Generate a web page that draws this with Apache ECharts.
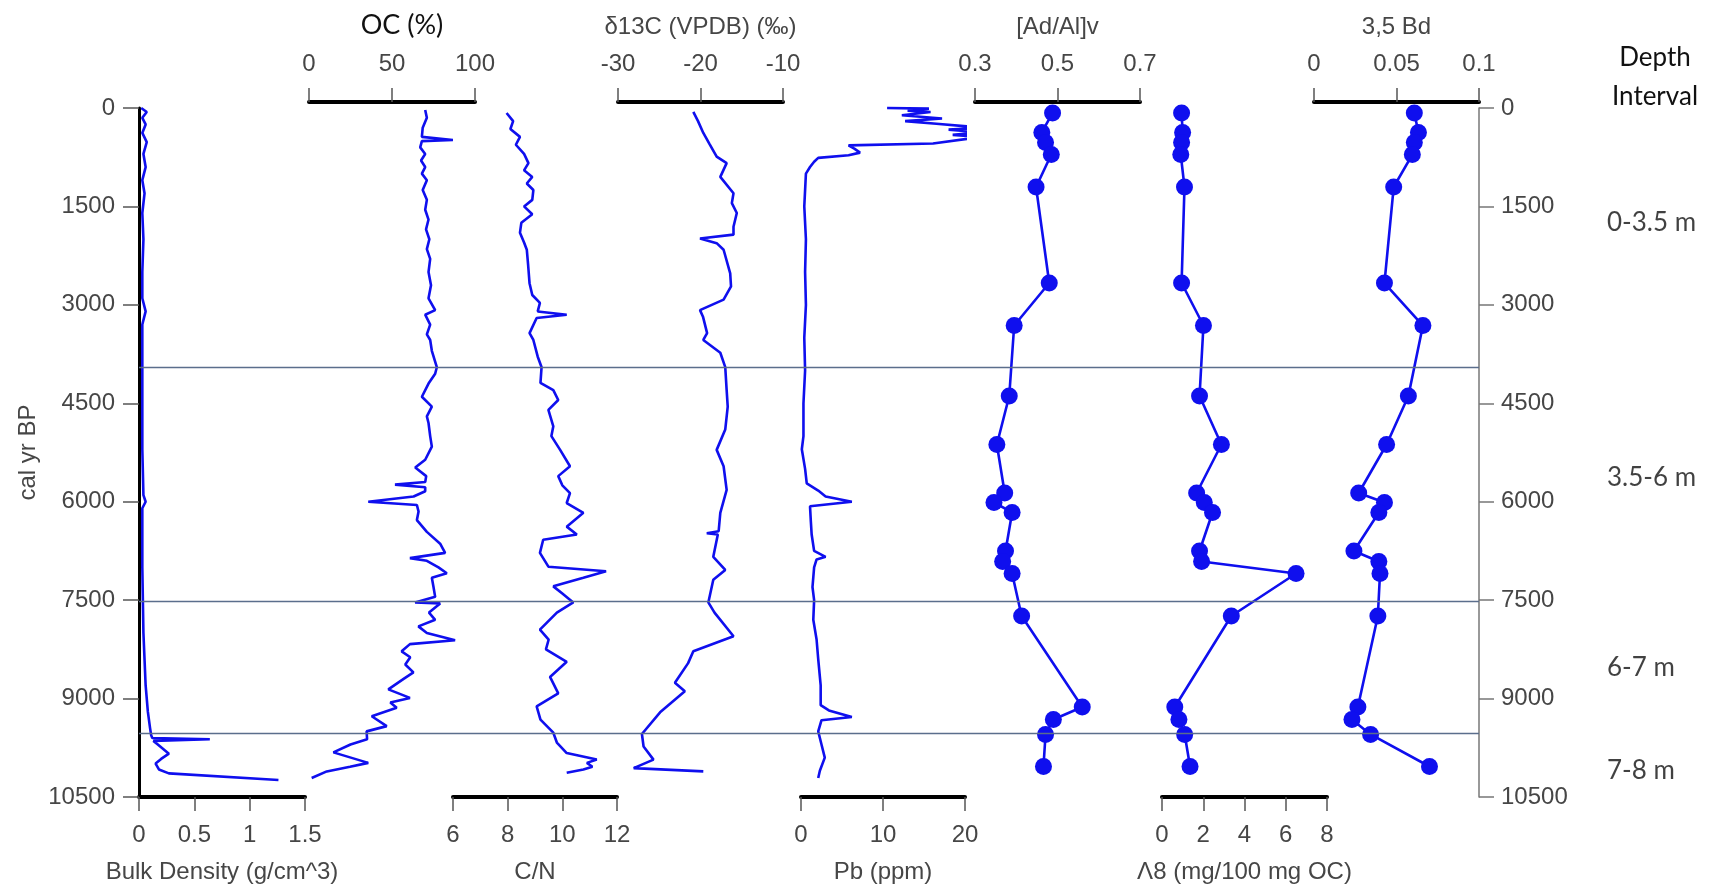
<!DOCTYPE html>
<html>
<head>
<meta charset="utf-8">
<title>Core profiles</title>
<script src="https://cdn.jsdelivr.net/npm/echarts@6/dist/echarts.min.js"></script>
<style>
  html, body { margin: 0; padding: 0; background: #fff; }
  #main { width: 1724px; height: 892px; }
</style>
</head>
<body>
<div id="main"></div>
<script>
// ---- data: age (cal yr BP) and value for every profile ----
var bdAge = [0, 60, 150, 250, 380, 520, 700, 900, 1100, 1300, 1600, 2000, 2500, 2900, 3100, 3300, 3800, 4500, 5200, 5900,
  6000, 6100, 7000, 8000, 8800, 9200, 9450, 9560, 9600, 9620, 9645, 9700, 9840, 9920, 9990, 10080, 10140, 10240];
var bdVal = [0.02, 0.07, 0.03, 0.06, 0.03, 0.07, 0.04, 0.06, 0.03, 0.05, 0.03, 0.04, 0.03, 0.03, 0.06, 0.03, 0.03, 0.03, 0.03, 0.04,
  0.06, 0.03, 0.03, 0.04, 0.06, 0.08, 0.1, 0.11, 0.12, 0.64, 0.13, 0.17, 0.27, 0.2, 0.15, 0.18, 0.27, 1.26];

var ocAge = [30, 150, 300, 440, 487, 505, 600, 700, 800, 900, 1000, 1100, 1250, 1400, 1550, 1700, 1850, 2000, 2150, 2300,
  2500, 2700, 2900, 3080, 3150, 3300, 3450, 3535, 3700, 3950, 4050, 4200, 4400, 4550, 4700, 4800, 5000, 5160, 5360, 5480,
  5610, 5700, 5740, 5780, 5840, 5920, 6000, 6050, 6150, 6280, 6460, 6640, 6780, 6860, 6900, 7000, 7090, 7160, 7300, 7450,
  7535, 7550, 7690, 7800, 7900, 8000, 8110, 8170, 8280, 8370, 8480, 8600, 8700, 8860, 8990, 9060, 9140, 9270, 9420, 9500,
  9620, 9700, 9820, 9980, 10040, 10110, 10210];
var ocVal = [70, 71, 68.5, 68, 86.7, 68, 67, 70, 67.5, 70, 68, 71, 68.5, 71, 70, 72, 70.5, 72.5, 71, 73,
  72, 73.5, 72, 76, 70, 73, 71, 73, 74, 77, 76, 72, 68, 74, 71, 72, 73, 74, 70, 64,
  70.6, 70, 51.8, 70, 70, 63, 35.7, 65, 66, 65, 71, 79, 82, 60.8, 71, 78, 83, 74, 75, 76,
  63.9, 79, 72.3, 76, 65.9, 71, 88, 60.8, 55.8, 61, 58, 62.9, 57, 47.8, 60.8, 49, 52.8, 37.8, 46.8, 34.7,
  35, 25, 14.7, 35.7, 24.7, 10.7, 1.6];

var cnAge = [76, 200, 320, 440, 560, 700, 840, 950, 1050, 1150, 1250, 1400, 1500, 1620, 1750, 1900, 2050, 2160, 2400, 2670,
  2850, 2970, 3100, 3150, 3200, 3430, 3535, 3790, 3950, 4190, 4300, 4450, 4600, 4850, 5000, 5210, 5460, 5610, 5750, 5870,
  6020, 6170, 6380, 6500, 6580, 6780, 6990, 7060, 7160, 7290, 7400, 7535, 7690, 7950, 8100, 8250, 8440, 8670, 8920, 9120,
  9320, 9520, 9670, 9830, 9930, 9980, 10040, 10080, 10130];
var cnVal = [7.96, 8.2, 8.1, 8.45, 8.3, 8.6, 8.76, 8.6, 8.9, 8.7, 8.94, 8.9, 8.6, 8.9, 8.5, 8.45, 8.6, 8.7, 8.75, 8.8,
  8.9, 9.18, 9.1, 10.16, 9.06, 8.8, 8.94, 9.1, 9.24, 9.2, 9.67, 9.85, 9.49, 9.67, 9.6, 9.92, 10.28, 9.85, 10.0, 10.28,
  10.16, 10.77, 10.16, 10.53, 9.3, 9.18, 9.49, 11.6, 10.77, 9.67, 10.0, 10.4, 9.8, 9.18, 9.5, 9.4, 10.16, 9.55, 9.85, 9.06,
  9.2, 9.67, 9.8, 10.16, 11.26, 10.9, 11.1, 10.77, 10.16];

var d13Age = [60, 200, 380, 550, 740, 840, 1050, 1300, 1450, 1600, 1810, 1930, 1990, 2060, 2160, 2520, 2720, 2920, 3080, 3180,
  3430, 3535, 3730, 3950, 4300, 4550, 4900, 5210, 5460, 5820, 6170, 6450, 6480, 6500, 6840, 7040, 7190, 7535, 7690, 8050,
  8280, 8460, 8760, 8890, 9210, 9540, 9730, 9930, 10060, 10110];
var d13Val = [-20.87, -20.3, -19.66, -18.9, -18.04, -16.83, -17.6, -16.0, -16.2, -15.6, -16.0, -16.0, -20.06, -18.04, -17.2, -16.4, -16.3, -17.2, -20.06, -19.7,
  -19.2, -19.66, -17.6, -17.0, -16.83, -16.7, -17.0, -18.04, -17.2, -16.83, -17.6, -17.8, -19.24, -17.9, -18.45, -17.0, -18.45, -19.05, -18.3, -16.0,
  -20.87, -21.5, -23.1, -21.9, -24.9, -27.1, -26.9, -25.7, -28.1, -19.66];

var pbAge = [0, 10, 40, 60, 110, 160, 200, 240, 300, 330, 370, 410, 440, 540, 570, 620, 680, 720, 760, 820,
  900, 1000, 1500, 2000, 2500, 3000, 3500, 4000, 4500, 5000, 5200, 5500, 5720, 5830, 5920, 6000, 6070, 6300, 6500, 6750,
  6840, 6880, 7000, 7300, 7500, 7800, 8100, 8400, 8800, 9100, 9180, 9280, 9330, 9500, 9700, 9900, 10100, 10210];
var pbVal = [10.5, 15.6, 13.0, 15.8, 12.3, 17.2, 12.7, 16.5, 22.1, 18.0, 22.1, 18.5, 22.1, 16.1, 5.8, 6.5, 7.2, 5.8, 2.1, 1.6,
  1.1, 0.6, 0.4, 0.6, 0.5, 0.6, 0.4, 0.5, 0.3, 0.3, 0.1, 0.5, 0.7, 2.1, 3.0, 6.2, 1.1, 1.2, 1.3, 1.6,
  3.0, 1.9, 1.6, 1.4, 1.6, 1.5, 1.9, 2.1, 2.4, 2.4, 3.4, 6.2, 2.5, 2.1, 2.5, 2.9, 2.3, 2.1];

// discrete samples (shared ages)
var sampleAge = [76, 373, 526, 709, 1204, 2667, 3315, 4389, 5128, 5867, 6012, 6164, 6751, 6911, 7094, 7742, 9128, 9319, 9547, 10035];
var adAlVal = [0.488, 0.462, 0.471, 0.485, 0.448, 0.480, 0.395, 0.383, 0.353, 0.372, 0.346, 0.39, 0.374, 0.367, 0.39, 0.413, 0.560, 0.49, 0.471, 0.466];
var lambda8Val = [0.95, 1.0, 0.95, 0.91, 1.09, 0.95, 2.01, 1.82, 2.88, 1.68, 2.05, 2.45, 1.82, 1.92, 6.5, 3.36, 0.62, 0.82, 1.1, 1.36];
var bd35Val = [0.0608, 0.0633, 0.0608, 0.0596, 0.0483, 0.0427, 0.066, 0.0572, 0.044, 0.0271, 0.0427, 0.0393, 0.0242, 0.0393, 0.04, 0.0387, 0.0266, 0.023, 0.0343, 0.07];

// depth intervals
var zoneBreaks = [3950, 7520, 9530];
var zoneNames = ['0-3.5 m', '3.5-6 m', '6-7 m', '7-8 m'];
var zoneLabelAge = [1740, 5640, 8530, 10100];

function pairs(vals, ages) {
  return vals.map(function (v, i) { return [v, ages[i]]; });
}
function plain(v) { return String(v); }   // no thousands separator

var TOP = 108, H = 689;
var BLUE = '#0f0fee';
var ARIAL = "'Liberation Sans', Arial, sans-serif";
var LABEL = { color: '#464646', fontFamily: ARIAL, fontSize: 24 };
var CALIBRI = { color: '#111', fontFamily: 'Lato', fontSize: 27 };

// one panel per profile
var panels = [
  { name: 'Bulk Density (g/cm^3)', left: 139, width: 166, pos: 'bottom', min: 0, max: 1.5, ticks: [0, 0.5, 1, 1.5], data: pairs(bdVal, bdAge) },
  { name: 'OC (%)', left: 309, width: 166, pos: 'top', min: 0, max: 100, ticks: [0, 50, 100], data: pairs(ocVal, ocAge),
    nameStyle: Object.assign({}, CALIBRI, { padding: [0, 0, 0, 20] }) },
  { name: 'C/N', left: 453, width: 164, pos: 'bottom', min: 6, max: 12, ticks: [6, 8, 10, 12], data: pairs(cnVal, cnAge) },
  { name: 'δ13C (VPDB) (‰)', left: 618, width: 165, pos: 'top', min: -30, max: -10, ticks: [-30, -20, -10], data: pairs(d13Val, d13Age) },
  { name: 'Pb (ppm)', left: 801, width: 164, pos: 'bottom', min: 0, max: 20, ticks: [0, 10, 20], data: pairs(pbVal, pbAge) },
  { name: '[Ad/Al]v', left: 975, width: 165, pos: 'top', min: 0.3, max: 0.7, ticks: [0.3, 0.5, 0.7], data: pairs(adAlVal, sampleAge), dots: true },
  { name: 'Λ8 (mg/100 mg OC)', left: 1162, width: 165, pos: 'bottom', min: 0, max: 8, ticks: [0, 2, 4, 6, 8], data: pairs(lambda8Val, sampleAge), dots: true },
  { name: '3,5 Bd', left: 1314, width: 165, pos: 'top', min: 0, max: 0.1, ticks: [0, 0.05, 0.1], data: pairs(bd35Val, sampleAge), dots: true }
];

var grid = [], xAxis = [], yAxis = [], series = [];

panels.forEach(function (p, i) {
  grid.push({ left: p.left, top: TOP, width: p.width, height: H });
  xAxis.push({
    gridIndex: i, type: 'value', position: p.pos, min: p.min, max: p.max,
    offset: p.pos === 'top' ? 6 : 0,
    name: p.name, nameLocation: 'middle', nameGap: 63,
    nameTextStyle: p.nameStyle || LABEL,
    axisLine: { show: true, onZero: false, lineStyle: { color: '#000', width: 4 } },
    axisTick: { show: true, length: 14, customValues: p.ticks, lineStyle: { color: '#555', width: 1.5 } },
    axisLabel: Object.assign({ margin: 26, customValues: p.ticks, formatter: plain }, LABEL),
    splitLine: { show: false }
  });

  var y = { gridIndex: i, type: 'value', min: 0, max: 10500, interval: 1500, inverse: true, show: false,
    splitLine: { show: false } };
  if (i === 0) {
    // left age axis
    Object.assign(y, {
      show: true, position: 'left', name: 'cal yr BP', nameLocation: 'middle', nameGap: 99,
      nameTextStyle: LABEL,
      axisLine: { show: true, onZero: false, lineStyle: { color: '#000', width: 3 } },
      axisTick: { show: true, length: 16, lineStyle: { color: '#555', width: 1.5 } },
      axisLabel: Object.assign({ margin: 24, formatter: plain }, LABEL)
    });
  } else if (i === panels.length - 1) {
    // right age axis
    Object.assign(y, {
      show: true, position: 'right',
      axisLine: { show: true, onZero: false, lineStyle: { color: '#777', width: 1.5 } },
      axisTick: { show: true, length: 15, lineStyle: { color: '#777', width: 1.5 } },
      axisLabel: Object.assign({ margin: 22, formatter: plain }, LABEL)
    });
  }
  yAxis.push(y);

  series.push({
    type: 'line', xAxisIndex: i, yAxisIndex: i, data: p.data, clip: false, silent: true,
    showSymbol: !!p.dots, symbol: p.dots ? 'circle' : 'none', symbolSize: 17,
    itemStyle: { color: BLUE },
    lineStyle: { color: BLUE, width: p.dots ? 2.6 : 2.6 },
    z: 3
  });
});

// full-width grid for the interval boundaries
var gAll = grid.length;
grid.push({ left: 139, top: TOP, width: 1340, height: H });
xAxis.push({ gridIndex: gAll, type: 'value', min: 0, max: 1, show: false });
yAxis.push({ gridIndex: gAll, type: 'value', min: 0, max: 10500, inverse: true, show: false });
series.push({
  type: 'line', xAxisIndex: gAll, yAxisIndex: gAll, data: [],
  markLine: {
    silent: true, symbol: ['none', 'none'], label: { show: false },
    lineStyle: { color: '#5b6e8c', width: 1.3, type: 'solid' },
    data: zoneBreaks.map(function (a) { return { yAxis: a }; })
  },
  z: 1
});

// column for the interval names
var gLab = grid.length;
grid.push({ left: 1607, top: TOP, width: 100, height: H });
xAxis.push({ gridIndex: gLab, type: 'value', min: 0, max: 1, show: false });
yAxis.push({ gridIndex: gLab, type: 'value', min: 0, max: 10500, inverse: true, show: false });
series.push({
  type: 'scatter', xAxisIndex: gLab, yAxisIndex: gLab, symbolSize: 0, silent: true,
  data: zoneNames.map(function (n, i) { return { name: n, value: [0, zoneLabelAge[i]] }; }),
  label: { show: true, position: 'right', distance: 0, formatter: '{b}',
    color: '#111', fontFamily: 'Lato', fontSize: 26 }
});

var chart = echarts.init(document.getElementById('main'), null, { renderer: 'canvas' });
chart.setOption({
  animation: false,
  backgroundColor: '#fff',
  textStyle: { fontFamily: ARIAL },
  grid: grid,
  xAxis: xAxis,
  yAxis: yAxis,
  series: series,
  graphic: [{
    type: 'text', x: 1655, y: 38, silent: true,
    style: { text: 'Depth\nInterval', align: 'center', verticalAlign: 'top',
      fill: '#111', fontFamily: 'Lato', fontSize: 26, lineHeight: 39 }
  }]
});
</script>
</body>
</html>
